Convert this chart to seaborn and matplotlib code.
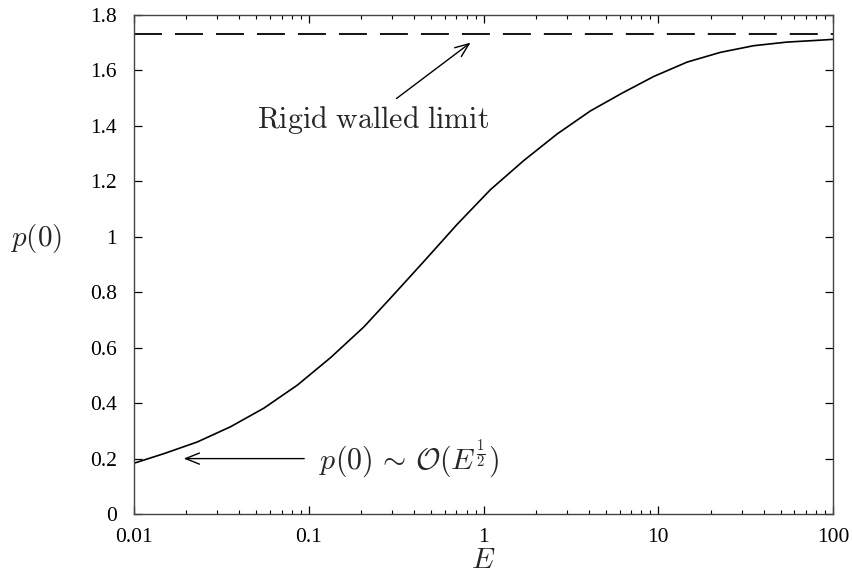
import matplotlib
matplotlib.use("Agg")
import matplotlib.pyplot as plt
import seaborn as sns
import pandas as pd

# Data
E_values = [0.01, 0.0149, 0.0231, 0.0358, 0.0555, 0.0862, 0.134, 0.207, 0.30,
            0.456, 0.707, 1.096, 1.70, 2.64, 4.09, 6.2, 9.4, 14.6, 22.6, 35.0,
            54.0, 84.0, 100.0]
p0_values = [0.183, 0.218, 0.260, 0.315, 0.382, 0.465, 0.565, 0.675, 0.785,
             0.911, 1.045, 1.170, 1.275, 1.371, 1.454, 1.518, 1.578, 1.630, 1.665, 1.689,
             1.702, 1.709, 1.712]
rigid_limit = 1.73

x_ticks = [0.01, 0.1, 1, 10, 100]
x_tick_labels = ["0.01", "0.1", "1", "10", "100"]
y_ticks = [0, 0.2, 0.4, 0.6, 0.8, 1.0, 1.2, 1.4, 1.6, 1.8]
y_tick_labels = ["0", "0.2", "0.4", "0.6", "0.8", "1", "1.2", "1.4", "1.6", "1.8"]

sns.set_theme(style="ticks")
plt.rcParams["font.family"] = ["Liberation Serif", "DejaVu Serif"]
plt.rcParams["mathtext.fontset"] = "cm"

df = pd.DataFrame({"E": E_values, "p0": p0_values})

fig = plt.figure(figsize=(8.52, 5.75), dpi=100)
ax = fig.add_axes([0.157, 0.106, 0.821, 0.868])

sns.lineplot(data=df, x="E", y="p0", ax=ax, color="black", linewidth=1.2)
ax.axhline(rigid_limit, color="black", linewidth=1.3, linestyle=(0, (15.5, 7.2)))

ax.set_xscale("log")
ax.set_xlim(0.01, 100)
ax.set_ylim(0, 1.8)
ax.set_xticks(x_ticks)
ax.set_xticklabels(x_tick_labels)
ax.set_yticks(y_ticks)
ax.set_yticklabels(y_tick_labels)

ax.tick_params(axis="both", which="major", direction="in", top=True, right=True,
               length=6, width=0.9, labelsize=15.5, color="black", labelcolor="black")
ax.tick_params(axis="x", which="major", pad=10)
ax.tick_params(axis="y", which="major", pad=12)
ax.tick_params(axis="x", which="minor", direction="in", top=True, bottom=True,
               length=3, width=0.8, color="black")
for s in ax.spines.values():
    s.set_color("#444444")
    s.set_linewidth(1.0)

ax.set_xlabel(r"$E$", fontsize=21)
ax.xaxis.set_label_coords(0.5, -0.095)
ax.xaxis.label.set_va("center")
ax.set_ylabel(r"$p(0)$", fontsize=21, rotation=0)
ax.yaxis.set_label_coords(-0.14, 0.553)
ax.yaxis.label.set_va("center")
ax.yaxis.label.set_ha("center")

ax.annotate(r"$\mathrm{Rigid\ walled\ limit}$", xy=(0.843, 1.70), xytext=(0.232, 1.42),
            fontsize=21.5, ha="center", va="center",
            arrowprops=dict(arrowstyle="->,head_length=0.5,head_width=0.2", color="black", lw=1.0,
                            mutation_scale=20, shrinkA=3, shrinkB=0,
                            relpos=(0.57, 1.0)))

ax.annotate(r"$p(0)\,\sim\,\mathcal{O}(E^{\frac{1}{2}})$", xy=(0.0193, 0.2), xytext=(0.114, 0.2),
            fontsize=21.5, ha="left", va="center",
            arrowprops=dict(arrowstyle="->,head_length=0.5,head_width=0.2", color="black", lw=1.0,
                            mutation_scale=20, shrinkA=8, shrinkB=0, relpos=(0.0, 0.5)))

fig.savefig("out.png", dpi=100)
